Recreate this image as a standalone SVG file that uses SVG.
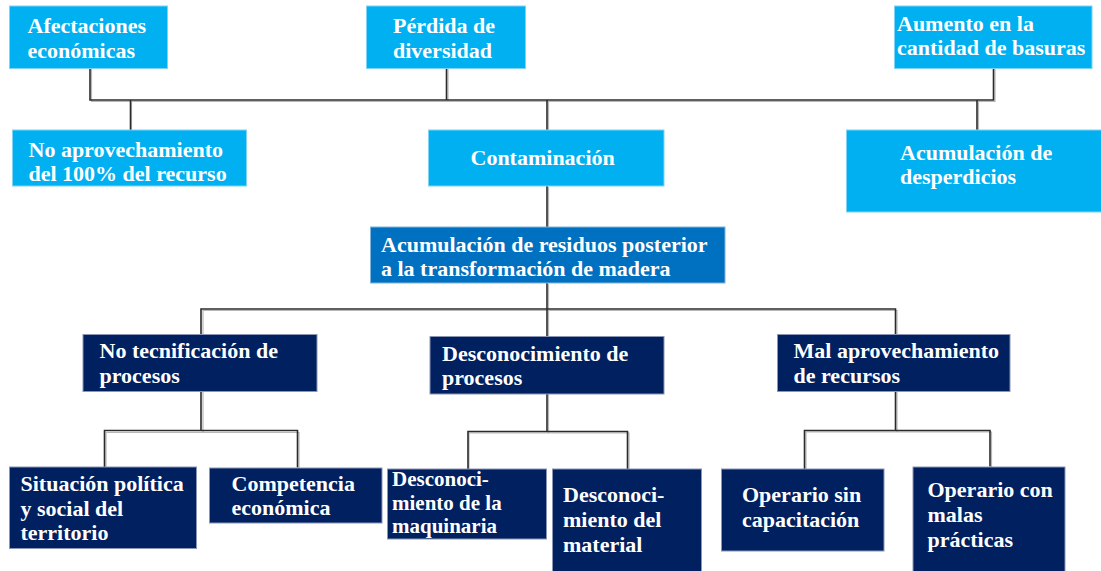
<svg xmlns="http://www.w3.org/2000/svg" width="1101" height="571" viewBox="0 0 1101 571">
<style>
.lb{fill:#00B0F0;stroke:#7fd3f5;stroke-width:1}
.mb{fill:#0070C0;stroke:#7fb3de;stroke-width:1}
.db{fill:#002060;stroke:#8a96b3;stroke-width:1}
text{font-family:"Liberation Serif","Times New Roman",serif;font-weight:bold;font-size:22px;fill:#ffffff}
.sm{font-size:21px}
.cn{fill:none;stroke:#2b2b2b;stroke-width:1.6}
.sh{fill:none;stroke:#b8b8b8;stroke-width:1.2}
</style>
<rect width="1101" height="571" fill="#ffffff"/>
<g id="connectors">
<path class="sh" d="M91.5 69 V101.5 H995 V69 M448 69 V101.5 M131.5 101.5 V131 M548.5 101.5 V131 M978.5 101.5 V131 M548.5 187 V228 M548.5 284 V337 M203 336 V310.5 H897 V336 M203 392 V432.5 M106 468 V432.5 H299 V468 M548.5 394 V433 M469 469 V433 H629 V469 M897 392 V432 M806 469 V432 H991.5 V467"/>
<path class="cn" d="M90 68 V100 H993.5 V68 M446.5 68 V100 M130.5 100 V130 M547 100 V130 M977 100 V130 M547 186 V227 M547 283 V336.5 M201 334.5 V309 H895.5 V334.5 M201 391.5 V430.5 M104.5 467 V430.5 H297.5 V467.5 M547 394 V431.5 M468 469 V431.5 H627.5 V469 M895.5 391.5 V430.5 M804.5 469 V430.5 H990 V466.5"/>
</g>
<g id="n-afectaciones"><rect class="lb" x="9.5" y="6" width="158" height="62.5"/><text x="27.5"><tspan x="27.5" y="33">Afectaciones</tspan><tspan x="27.5" y="58">económicas</tspan></text></g>
<g id="n-perdida"><rect class="lb" x="366.5" y="6" width="159" height="62.5"/><text><tspan x="393" y="33">Pérdida de</tspan><tspan x="393" y="58">diversidad</tspan></text></g>
<g id="n-aumento"><rect class="lb" x="894.5" y="6" width="197.5" height="62.5"/><text><tspan x="897" y="30.5">Aumento en la</tspan><tspan x="897" y="55">cantidad de basuras</tspan></text></g>
<g id="n-noaprov"><rect class="lb" x="12.5" y="130" width="234" height="56"/><text><tspan x="28.5" y="156.5">No aprovechamiento</tspan><tspan x="28.5" y="181">del 100% del recurso</tspan></text></g>
<g id="n-contaminacion"><rect class="lb" x="428.5" y="130" width="235.5" height="56"/><text x="470.5" y="165">Contaminación</text></g>
<g id="n-acumdesp"><rect class="lb" x="846.5" y="130" width="256" height="82"/><text><tspan x="900" y="160">Acumulación de</tspan><tspan x="900" y="184">desperdicios</tspan></text></g>
<g id="n-acumres"><rect class="mb" x="370.5" y="227" width="354.5" height="56"/><text><tspan x="381" y="251.5">Acumulación de residuos posterior</tspan><tspan x="381" y="276">a la transformación de madera</tspan></text></g>
<g id="n-notec"><rect class="db" x="83" y="334.5" width="234" height="57"/><text><tspan x="99.5" y="358">No tecnificación de</tspan><tspan x="99.5" y="383">procesos</tspan></text></g>
<g id="n-descproc"><rect class="db" x="430" y="336.5" width="234" height="57.5"/><text><tspan x="442" y="360.5">Desconocimiento de</tspan><tspan x="442" y="385">procesos</tspan></text></g>
<g id="n-malaprov"><rect class="db" x="777.5" y="334.5" width="232.5" height="57"/><text><tspan x="793.5" y="358">Mal aprovechamiento</tspan><tspan x="793.5" y="383">de recursos</tspan></text></g>
<g id="n-situacion"><rect class="db" x="9.5" y="467" width="187" height="81.5"/><text><tspan x="20.5" y="491">Situación política</tspan><tspan x="20.5" y="516">y social del</tspan><tspan x="20.5" y="540">territorio</tspan></text></g>
<g id="n-competencia"><rect class="db" x="209.5" y="468" width="172.5" height="55"/><text><tspan x="231.5" y="491">Competencia</tspan><tspan x="231.5" y="515">económica</tspan></text></g>
<g id="n-maquinaria"><rect class="db" x="387.5" y="469" width="159" height="70"/><text class="sm"><tspan x="392" y="486">Desconoci-</tspan><tspan x="392" y="509.5">miento de la</tspan><tspan x="392" y="533">maquinaria</tspan></text></g>
<g id="n-material"><rect class="db" x="552.5" y="469" width="149" height="104"/><text><tspan x="563" y="502">Desconoci-</tspan><tspan x="563" y="527">miento del</tspan><tspan x="563" y="551.5">material</tspan></text></g>
<g id="n-opsin"><rect class="db" x="721.5" y="469" width="162.5" height="82"/><text><tspan x="742" y="502">Operario sin</tspan><tspan x="742" y="527">capacitación</tspan></text></g>
<g id="n-opcon"><rect class="db" x="913" y="467" width="152" height="106"/><text><tspan x="927.5" y="497">Operario con</tspan><tspan x="927.5" y="522">malas</tspan><tspan x="927.5" y="547">prácticas</tspan></text></g>
</svg>
